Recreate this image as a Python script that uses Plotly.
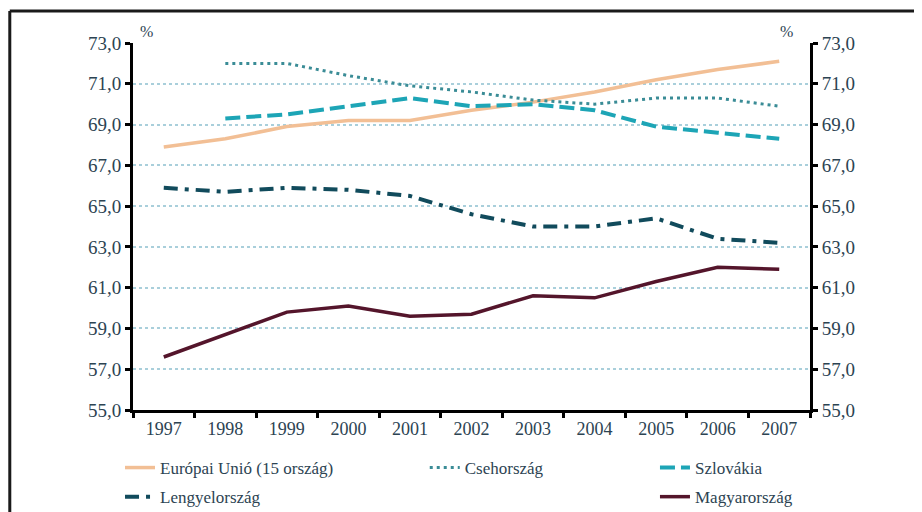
import plotly.graph_objects as go

years = ["1997", "1998", "1999", "2000", "2001", "2002", "2003", "2004", "2005", "2006", "2007"]
eu15 = [67.9, 68.3, 68.9, 69.2, 69.2, 69.7, 70.1, 70.6, 71.2, 71.7, 72.1]
cseh = [None, 72.0, 72.0, 71.4, 70.9, 70.6, 70.2, 70.0, 70.3, 70.3, 69.9]
szlov = [None, 69.3, 69.5, 69.9, 70.3, 69.9, 70.0, 69.7, 68.9, 68.6, 68.3]
lengyel = [65.9, 65.7, 65.9, 65.8, 65.5, 64.6, 64.0, 64.0, 64.4, 63.4, 63.2]
magyar = [57.6, 58.7, 59.8, 60.1, 59.6, 59.7, 60.6, 60.5, 61.3, 62.0, 61.9]

names = ["Európai Unió (15 ország)", "Csehország", "Szlovákia", "Lengyelország", "Magyarország"]

FONT = "Liberation Serif, Times New Roman, serif"
TXT = "#2c4352"

fig = go.Figure()
fig.add_trace(go.Scatter(x=years, y=eu15, name=names[0], mode="lines", legendgroup="a",
                         line=dict(color="#f2bf95", width=3.5), legend="legend"))
fig.add_trace(go.Scatter(x=years, y=cseh, name=names[1], mode="lines", legendgroup="b",
                         line=dict(color="#3a8c96", width=3, dash="3px,4px"), legend="legend2"))
fig.add_trace(go.Scatter(x=years, y=szlov, name=names[2], mode="lines", legendgroup="c",
                         line=dict(color="#1da5b6", width=4, dash="15px,6px"), legend="legend3"))
fig.add_trace(go.Scatter(x=years, y=lengyel, name=names[3], mode="lines", legendgroup="d",
                         line=dict(color="#114b5c", width=4, dash="14px,7px,4px,7px"), legend="legend"))
fig.add_trace(go.Scatter(x=years, y=magyar, name=names[4], mode="lines", legendgroup="e",
                         line=dict(color="#54152b", width=3.5), legend="legend3"))
# right axis companion (invisible) to get mirrored scale
fig.add_trace(go.Scatter(x=years, y=eu15, yaxis="y2", mode="lines", line=dict(width=0),
                         showlegend=False, hoverinfo="skip", opacity=0))

axis_common = dict(range=[55, 73], dtick=2, tick0=55, tickformat=".1f", automargin=False,
                   showline=True, linecolor="black", linewidth=3,
                   ticks="outside", ticklen=5, tickwidth=3, tickcolor="black",
                   tickfont=dict(family=FONT, size=19, color=TXT), zeroline=False)

leg_font = dict(family=FONT, size=17, color=TXT)
leg_common = dict(xref="container", yref="container", xanchor="left", yanchor="top",
                  orientation="v", font=leg_font, tracegroupgap=4, bgcolor="rgba(0,0,0,0)")
fig.update_layout(
    width=922, height=512,
    margin=dict(l=125, r=120, t=35, b=110, autoexpand=False),
    paper_bgcolor="white", plot_bgcolor="white",
    separators=", ",
    font=dict(family=FONT, color=TXT),
    xaxis=dict(type="category", range=[-0.5, 10.5], tickson="boundaries", automargin=False,
               showline=True, linecolor="black", linewidth=3,
               ticks="outside", ticklen=5, tickwidth=3, tickcolor="black",
               tickfont=dict(family=FONT, size=18, color=TXT), showgrid=False),
    yaxis=dict(**axis_common, showgrid=True, gridcolor="#a9cfdb", griddash="dot", gridwidth=1.5),
    yaxis2=dict(**axis_common, overlaying="y", side="right", showgrid=False),
    legend=dict(x=0.1215, y=0.1367, **leg_common),
    legend2=dict(x=0.452, y=0.1367, **leg_common),
    legend3=dict(x=0.7017, y=0.1367, **leg_common),
    showlegend=True,
)

fig.add_annotation(x=0.008, y=1.03, xref="paper", yref="paper", text="%", showarrow=False,
                   xanchor="left", yanchor="middle", font=dict(family=FONT, size=16, color=TXT))
fig.add_annotation(x=0.978, y=1.03, xref="paper", yref="paper", text="%", showarrow=False,
                   xanchor="right", yanchor="middle", font=dict(family=FONT, size=16, color=TXT))

# outer frame (top and left edges visible)
fig.add_shape(type="line", xref="paper", yref="paper", x0=-0.182, x1=1.2, y0=1.087, y1=1.087,
              line=dict(color="#1a1a1a", width=3))
fig.add_shape(type="line", xref="paper", yref="paper", x0=-0.182, x1=-0.182, y0=1.087, y1=-0.3,
              line=dict(color="#1a1a1a", width=3))

fig.write_html("out.html")
